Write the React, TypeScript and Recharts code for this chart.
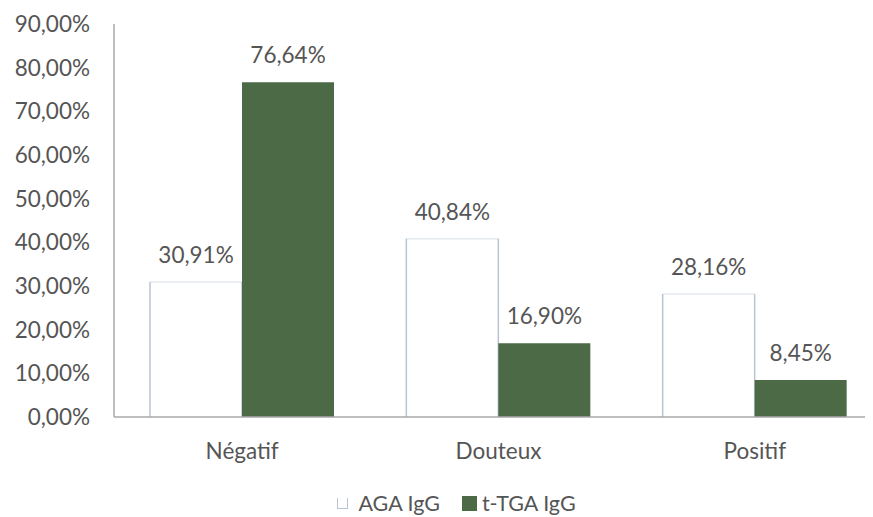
import React from "react";
import { BarChart, Bar, XAxis, YAxis, Legend, LabelList } from "recharts";

const categories = ["Négatif", "Douteux", "Positif"];
const agaValues = [30.91, 40.84, 28.16];
const ttgaValues = [76.64, 16.9, 8.45];
const yTicks = [0, 10, 20, 30, 40, 50, 60, 70, 80, 90];
const seriesNames = ["AGA IgG", "t-TGA IgG"];

const data = categories.map((c, i) => ({ name: c, aga: agaValues[i], ttga: ttgaValues[i] }));

const FONT = "Lato, 'Open Sans', sans-serif";
const GREEN = "#4d6a46";
const TEXT = "#555555";

const fmt = (v: number) => v.toFixed(2).replace(".", ",") + "%";

const AgaShape = (props: any) => {
  const { x, y, width, height } = props;
  if (!height || height <= 0) return null;
  return (
    <g>
      <rect x={x} y={y} width={width} height={height} fill="#ffffff" />
      <line x1={x} y1={y} x2={x + width} y2={y} stroke="#e4e9ef" strokeWidth={1.5} />
      <line x1={x} y1={y} x2={x} y2={y + height} stroke="#b9c4d2" strokeWidth={1.5} />
      <line x1={x + width} y1={y} x2={x + width} y2={y + height} stroke="#b9c4d2" strokeWidth={1.5} />
    </g>
  );
};

const LegendContent = () => (
  <div style={{ height: 30, display: "flex", justifyContent: "center", alignItems: "center", fontFamily: FONT, fontSize: 21.5, lineHeight: "24px", color: TEXT, paddingLeft: 22 }}>
    <span style={{ display: "inline-block", width: 9, height: 10, border: "1.5px solid #b9c4d2", borderTop: "none", background: "#fff", marginRight: 10 }} />
    <span style={{ marginRight: 22 }}>{seriesNames[0]}</span>
    <span style={{ display: "inline-block", width: 15, height: 15, background: GREEN, marginRight: 5 }} />
    <span>{seriesNames[1]}</span>
  </div>
);

export default function App() {
  return (
    <div style={{ width: 865, height: 509, overflow: "hidden" }}>
      <BarChart
        width={880}
        height={509}
        data={data}
        margin={{ top: 16, right: 5, bottom: 0, left: 0 }}
        barCategoryGap={36}
        barGap={0}
      >
        <YAxis
          domain={[0, 90]}
          ticks={yTicks}
          tickFormatter={(v: number) => fmt(v)}
          width={106}
          tickSize={0}
          tickMargin={24}
          axisLine={{ stroke: "#a9a9a9", strokeWidth: 1.5 }}
          tickLine={false}
          tick={{ fill: TEXT, fontSize: 22.5, fontFamily: FONT }}
          interval={0}
        />
        <XAxis
          dataKey="name"
          height={70}
          tickSize={0}
          tickMargin={26}
          axisLine={{ stroke: "#a9a9a9", strokeWidth: 1.5 }}
          tickLine={false}
          tick={{ fill: TEXT, fontSize: 22.5, fontFamily: FONT }}
        />
        <Legend verticalAlign="bottom" height={30} wrapperStyle={{ bottom: -1 }} content={<LegendContent />} />
        <Bar dataKey="aga" name={seriesNames[0]} fill="#ffffff" shape={<AgaShape />} isAnimationActive={false}>
          <LabelList dataKey="aga" position="top" offset={19} formatter={(v: number) => fmt(v)} style={{ fill: TEXT, fontSize: 22.5, fontFamily: FONT }} />
        </Bar>
        <Bar dataKey="ttga" name={seriesNames[1]} fill={GREEN} isAnimationActive={false}>
          <LabelList dataKey="ttga" position="top" offset={19} formatter={(v: number) => fmt(v)} style={{ fill: TEXT, fontSize: 22.5, fontFamily: FONT }} />
        </Bar>
      </BarChart>
    </div>
  );
}
